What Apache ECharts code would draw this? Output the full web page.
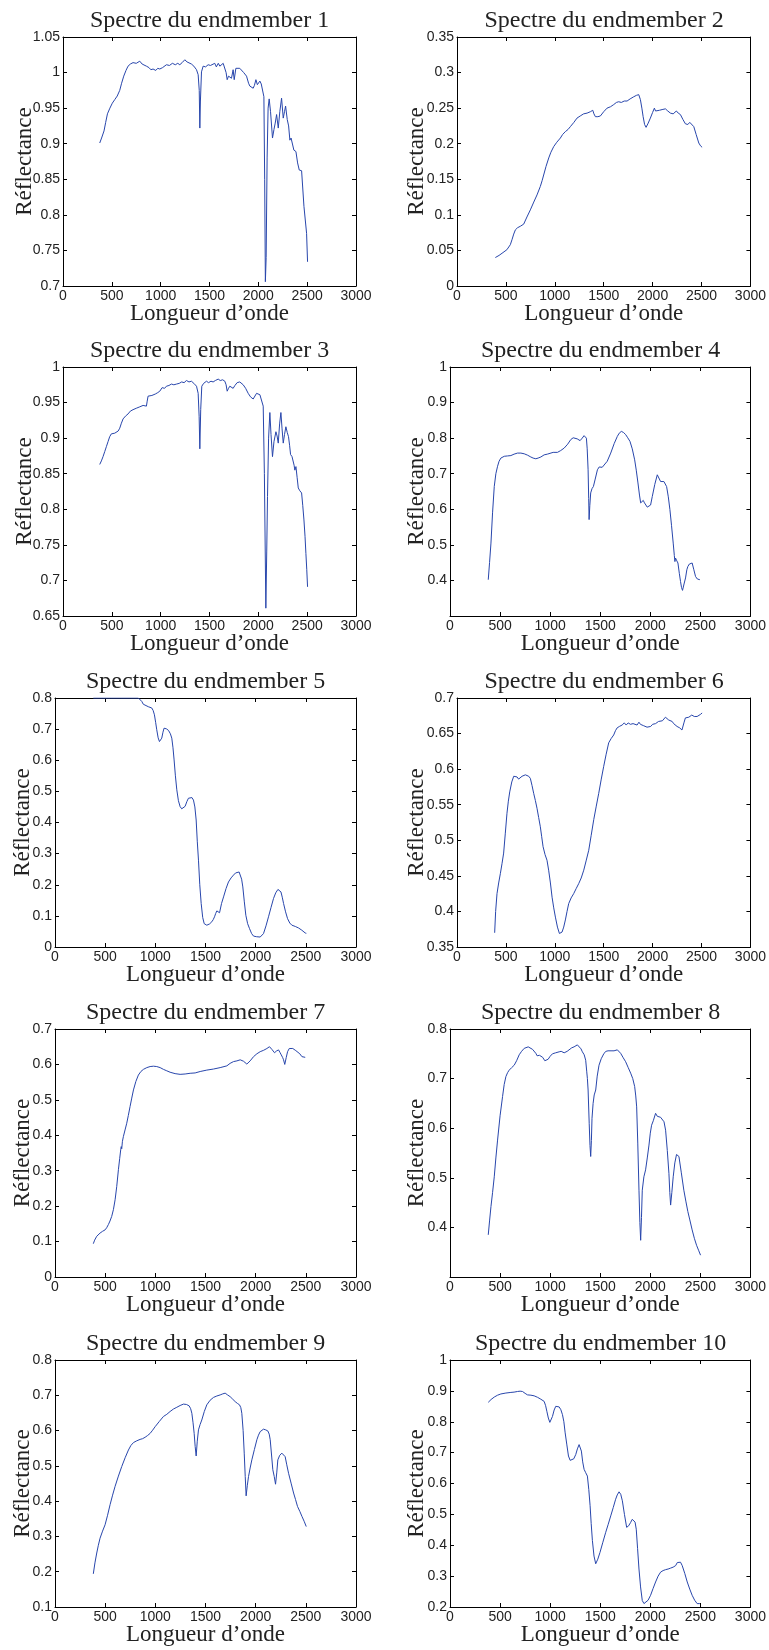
<!DOCTYPE html>
<html>
<head>
<meta charset="utf-8">
<title>Spectres des endmembers</title>
<script src="https://cdn.jsdelivr.net/npm/echarts@6/dist/echarts.min.js"></script>
<style>
  html, body { margin: 0; padding: 0; background: #fff; }
  #chart { width: 769px; height: 1650px; }
</style>
</head>
<body>
<div id="chart"></div>
<script>
// Reflectance spectra of the ten endmembers: [wavelength (nm), reflectance]
const em1 = [[376,0.901],[395,0.908],[420,0.918],[437,0.930],[455,0.942],[480,0.950],[505,0.957],[530,0.962],[555,0.967],[581,0.975],[600,0.985],[622,0.995],[645,1.003],[666,1.009],[690,1.012],[717,1.014],[750,1.013],[786,1.016],[810,1.012],[830,1.013],[854,1.009],[880,1.007],[900,1.004],[922,1.005],[950,1.003],[970,1.006],[991,1.005],[1020,1.007],[1059,1.011],[1090,1.010],[1120,1.013],[1150,1.011],[1175,1.013],[1196,1.011],[1220,1.014],[1247,1.018],[1270,1.015],[1290,1.014],[1315,1.012],[1340,1.009],[1367,1.004],[1384,0.997],[1395,0.975],[1401,0.922],[1407,0.960],[1418,1.001],[1435,1.009],[1460,1.008],[1486,1.011],[1510,1.010],[1530,1.012],[1554,1.013],[1570,1.008],[1590,1.013],[1606,1.009],[1625,1.011],[1640,1.013],[1657,1.011],[1670,1.000],[1681,0.990],[1695,0.995],[1708,0.997],[1725,0.992],[1742,1.004],[1753,0.990],[1770,1.006],[1790,1.004],[1810,1.006],[1828,1.004],[1850,1.000],[1865,0.998],[1879,0.995],[1900,0.985],[1913,0.981],[1930,0.980],[1947,0.978],[1960,0.982],[1975,0.990],[1990,0.983],[2005,0.985],[2016,0.988],[2030,0.984],[2045,0.985],[2057,0.966],[2065,0.850],[2072,0.706],[2080,0.740],[2090,0.880],[2100,0.950],[2111,0.963],[2125,0.945],[2145,0.908],[2160,0.920],[2173,0.929],[2187,0.941],[2204,0.922],[2220,0.945],[2238,0.964],[2255,0.936],[2268,0.945],[2279,0.953],[2296,0.934],[2310,0.925],[2323,0.905],[2335,0.908],[2347,0.910],[2364,0.891],[2385,0.889],[2402,0.873],[2419,0.863],[2443,0.862],[2467,0.812],[2494,0.774],[2504,0.734]];

const em2 = [[392,0.040],[430,0.043],[470,0.047],[510,0.051],[528,0.053],[545,0.058],[562,0.065],[580,0.073],[597,0.079],[620,0.082],[648,0.084],[682,0.087],[715,0.097],[750,0.107],[785,0.118],[818,0.128],[852,0.140],[870,0.148],[886,0.156],[910,0.168],[938,0.180],[960,0.188],[989,0.196],[1020,0.202],[1057,0.208],[1080,0.213],[1108,0.217],[1135,0.220],[1159,0.224],[1195,0.230],[1227,0.236],[1260,0.239],[1295,0.242],[1330,0.243],[1364,0.245],[1388,0.247],[1400,0.242],[1415,0.238],[1440,0.238],[1466,0.239],[1500,0.245],[1534,0.250],[1570,0.252],[1602,0.255],[1630,0.258],[1653,0.259],[1680,0.258],[1710,0.260],[1739,0.260],[1770,0.263],[1807,0.266],[1835,0.268],[1858,0.269],[1875,0.262],[1890,0.250],[1903,0.238],[1918,0.227],[1933,0.223],[1955,0.229],[1977,0.236],[2000,0.244],[2018,0.250],[2030,0.246],[2045,0.245],[2070,0.247],[2097,0.248],[2115,0.246],[2131,0.249],[2155,0.246],[2182,0.243],[2210,0.242],[2243,0.246],[2262,0.243],[2284,0.241],[2310,0.234],[2335,0.228],[2360,0.227],[2380,0.230],[2400,0.228],[2421,0.224],[2445,0.213],[2472,0.201],[2490,0.197],[2506,0.195]];

const em3 = [[376,0.863],[393,0.868],[410,0.874],[427,0.881],[444,0.888],[461,0.895],[478,0.902],[495,0.906],[512,0.908],[530,0.907],[547,0.907],[565,0.910],[581,0.914],[598,0.921],[615,0.927],[640,0.931],[666,0.934],[690,0.938],[717,0.940],[750,0.942],[786,0.944],[820,0.946],[854,0.945],[862,0.952],[871,0.959],[890,0.957],[910,0.960],[922,0.959],[945,0.962],[970,0.964],[991,0.966],[1015,0.971],[1040,0.970],[1059,0.973],[1085,0.974],[1110,0.976],[1135,0.975],[1162,0.976],[1190,0.977],[1215,0.979],[1240,0.978],[1264,0.981],[1290,0.979],[1315,0.980],[1340,0.977],[1367,0.973],[1384,0.963],[1394,0.930],[1401,0.885],[1410,0.940],[1421,0.973],[1440,0.977],[1469,0.980],[1490,0.978],[1515,0.980],[1537,0.979],[1560,0.981],[1589,0.983],[1610,0.981],[1635,0.982],[1657,0.980],[1670,0.975],[1681,0.966],[1695,0.970],[1708,0.973],[1725,0.971],[1742,0.970],[1760,0.974],[1783,0.978],[1810,0.979],[1845,0.975],[1870,0.970],[1896,0.963],[1920,0.958],[1947,0.955],[1965,0.957],[1982,0.963],[2000,0.961],[2016,0.961],[2033,0.963],[2050,0.945],[2062,0.850],[2077,0.661],[2086,0.740],[2094,0.818],[2105,0.900],[2118,0.936],[2130,0.905],[2145,0.874],[2160,0.895],[2180,0.909],[2192,0.903],[2204,0.893],[2218,0.920],[2231,0.936],[2243,0.913],[2255,0.893],[2268,0.905],[2282,0.916],[2296,0.908],[2309,0.902],[2320,0.890],[2330,0.877],[2345,0.874],[2357,0.872],[2366,0.862],[2374,0.855],[2385,0.860],[2397,0.845],[2409,0.830],[2425,0.826],[2443,0.823],[2455,0.805],[2467,0.785],[2478,0.762],[2487,0.738],[2496,0.715],[2504,0.691]];

const em4 = [[382,0.402],[395,0.450],[409,0.505],[425,0.590],[442,0.664],[458,0.700],[475,0.721],[490,0.735],[508,0.744],[525,0.747],[542,0.749],[575,0.750],[608,0.751],[640,0.755],[674,0.758],[708,0.758],[741,0.756],[775,0.752],[807,0.747],[830,0.744],[857,0.742],[880,0.744],[907,0.747],[925,0.750],[940,0.753],[950,0.748],[957,0.749],[972,0.755],[990,0.760],[1030,0.760],[1073,0.760],[1105,0.765],[1140,0.772],[1175,0.783],[1206,0.796],[1230,0.801],[1246,0.803],[1270,0.798],[1299,0.793],[1320,0.800],[1339,0.807],[1352,0.806],[1362,0.800],[1370,0.770],[1379,0.711],[1385,0.630],[1389,0.571],[1396,0.610],[1405,0.646],[1418,0.658],[1432,0.664],[1450,0.685],[1472,0.711],[1490,0.719],[1505,0.721],[1520,0.718],[1538,0.716],[1570,0.735],[1605,0.758],[1640,0.785],[1671,0.805],[1690,0.814],[1711,0.819],[1732,0.816],[1754,0.810],[1775,0.801],[1797,0.791],[1820,0.770],[1844,0.739],[1860,0.710],[1877,0.674],[1892,0.640],[1904,0.618],[1918,0.620],[1930,0.625],[1942,0.618],[1953,0.613],[1970,0.606],[1987,0.603],[2003,0.612],[2020,0.636],[2045,0.670],[2070,0.697],[2085,0.695],[2103,0.678],[2120,0.680],[2136,0.678],[2150,0.673],[2163,0.664],[2180,0.635],[2196,0.599],[2212,0.555],[2229,0.505],[2240,0.470],[2246,0.453],[2252,0.463],[2259,0.467],[2265,0.455],[2276,0.449],[2290,0.420],[2302,0.397],[2312,0.380],[2322,0.372],[2337,0.390],[2352,0.407],[2365,0.430],[2375,0.439],[2390,0.446],[2402,0.449],[2418,0.449],[2435,0.430],[2452,0.411],[2470,0.404],[2495,0.402]];

const em5 = [[382,0.800],[450,0.800],[550,0.800],[650,0.800],[750,0.800],[831,0.800],[848,0.796],[865,0.789],[880,0.780],[898,0.775],[930,0.772],[964,0.768],[978,0.760],[991,0.746],[1003,0.722],[1014,0.698],[1028,0.672],[1041,0.660],[1053,0.662],[1064,0.671],[1076,0.690],[1087,0.703],[1110,0.701],[1131,0.696],[1150,0.685],[1164,0.671],[1176,0.640],[1187,0.601],[1200,0.550],[1214,0.505],[1230,0.470],[1247,0.451],[1263,0.444],[1280,0.443],[1297,0.452],[1314,0.467],[1330,0.478],[1347,0.483],[1365,0.480],[1380,0.472],[1394,0.450],[1407,0.408],[1418,0.340],[1430,0.279],[1443,0.200],[1457,0.140],[1472,0.095],[1487,0.075],[1500,0.071],[1513,0.070],[1540,0.074],[1563,0.081],[1577,0.088],[1590,0.097],[1602,0.108],[1613,0.116],[1627,0.113],[1640,0.110],[1660,0.140],[1680,0.161],[1705,0.188],[1729,0.209],[1755,0.222],[1779,0.231],[1800,0.238],[1819,0.242],[1835,0.241],[1846,0.236],[1860,0.218],[1872,0.193],[1887,0.145],[1902,0.102],[1920,0.075],[1939,0.059],[1960,0.043],[1979,0.035],[2010,0.033],[2045,0.032],[2062,0.036],[2078,0.043],[2103,0.068],[2128,0.097],[2153,0.127],[2178,0.156],[2200,0.174],[2222,0.185],[2237,0.185],[2252,0.177],[2265,0.160],[2278,0.140],[2298,0.113],[2318,0.091],[2340,0.077],[2361,0.070],[2395,0.066],[2428,0.061],[2460,0.054],[2494,0.045],[2505,0.044]];

const em6 = [[385,0.370],[395,0.400],[409,0.425],[426,0.440],[443,0.453],[460,0.467],[477,0.482],[494,0.510],[511,0.538],[525,0.555],[539,0.568],[560,0.582],[580,0.590],[597,0.590],[614,0.589],[630,0.586],[648,0.586],[665,0.590],[682,0.592],[699,0.592],[716,0.592],[733,0.590],[750,0.587],[767,0.577],[784,0.566],[801,0.556],[818,0.545],[835,0.532],[852,0.519],[866,0.505],[880,0.491],[900,0.480],[920,0.472],[937,0.458],[955,0.440],[972,0.420],[989,0.405],[1006,0.392],[1027,0.378],[1047,0.369],[1060,0.369],[1074,0.371],[1091,0.378],[1108,0.388],[1125,0.400],[1142,0.411],[1167,0.419],[1193,0.425],[1218,0.432],[1244,0.439],[1270,0.447],[1296,0.458],[1320,0.471],[1347,0.486],[1372,0.507],[1398,0.529],[1424,0.548],[1449,0.566],[1475,0.586],[1500,0.604],[1525,0.621],[1551,0.637],[1576,0.643],[1602,0.648],[1620,0.654],[1637,0.658],[1660,0.660],[1688,0.662],[1710,0.665],[1730,0.662],[1750,0.665],[1773,0.663],[1800,0.664],[1820,0.662],[1841,0.662],[1860,0.666],[1875,0.663],[1890,0.665],[1909,0.661],[1925,0.660],[1943,0.659],[1960,0.661],[1980,0.660],[2000,0.663],[2011,0.662],[2030,0.664],[2045,0.662],[2060,0.667],[2080,0.667],[2100,0.668],[2115,0.670],[2131,0.673],[2150,0.672],[2165,0.669],[2182,0.669],[2200,0.667],[2215,0.664],[2233,0.662],[2250,0.660],[2265,0.660],[2277,0.658],[2290,0.656],[2300,0.655],[2308,0.653],[2320,0.665],[2335,0.672],[2350,0.672],[2370,0.673],[2386,0.674],[2400,0.676],[2414,0.678],[2426,0.674],[2438,0.672],[2455,0.674],[2470,0.676],[2490,0.677],[2506,0.679]];

const em7 = [[382,0.094],[395,0.104],[416,0.115],[432,0.120],[449,0.124],[474,0.129],[499,0.133],[515,0.139],[532,0.148],[548,0.158],[565,0.171],[582,0.190],[599,0.218],[615,0.255],[632,0.303],[645,0.335],[655,0.359],[660,0.368],[665,0.362],[672,0.383],[682,0.397],[698,0.415],[715,0.434],[731,0.456],[748,0.481],[765,0.505],[782,0.528],[806,0.552],[831,0.570],[856,0.580],[881,0.586],[915,0.591],[948,0.594],[981,0.595],[1014,0.594],[1048,0.591],[1081,0.586],[1114,0.582],[1147,0.578],[1197,0.574],[1247,0.572],[1297,0.573],[1347,0.575],[1397,0.576],[1447,0.580],[1513,0.584],[1580,0.587],[1646,0.591],[1713,0.596],[1745,0.603],[1779,0.608],[1813,0.610],[1846,0.613],[1865,0.613],[1879,0.609],[1895,0.604],[1912,0.601],[1945,0.610],[1979,0.622],[2012,0.630],[2045,0.636],[2080,0.640],[2112,0.645],[2138,0.650],[2163,0.642],[2188,0.633],[2208,0.638],[2228,0.641],[2242,0.634],[2255,0.627],[2268,0.620],[2278,0.613],[2290,0.600],[2295,0.598],[2305,0.620],[2318,0.636],[2335,0.645],[2354,0.650],[2370,0.645],[2384,0.641],[2400,0.639],[2418,0.636],[2440,0.630],[2461,0.622],[2480,0.620],[2494,0.620]];

const em8 = [[382,0.385],[395,0.413],[409,0.442],[425,0.470],[442,0.502],[458,0.540],[475,0.576],[500,0.625],[525,0.664],[541,0.688],[558,0.704],[575,0.712],[591,0.717],[615,0.722],[641,0.727],[665,0.736],[691,0.748],[715,0.755],[741,0.761],[760,0.763],[781,0.764],[800,0.763],[824,0.759],[840,0.756],[857,0.751],[870,0.746],[880,0.744],[893,0.747],[907,0.746],[925,0.743],[947,0.736],[962,0.736],[980,0.739],[1000,0.745],[1023,0.750],[1055,0.752],[1090,0.754],[1110,0.755],[1123,0.754],[1140,0.752],[1156,0.748],[1170,0.755],[1189,0.759],[1215,0.762],[1239,0.764],[1255,0.765],[1272,0.768],[1290,0.765],[1308,0.760],[1322,0.754],[1340,0.748],[1355,0.737],[1365,0.715],[1372,0.700],[1379,0.677],[1390,0.610],[1398,0.565],[1405,0.543],[1412,0.575],[1418,0.620],[1429,0.650],[1440,0.667],[1455,0.677],[1470,0.705],[1488,0.727],[1510,0.740],[1538,0.751],[1558,0.755],[1578,0.756],[1608,0.756],[1638,0.756],[1655,0.758],[1671,0.758],[1688,0.755],[1704,0.751],[1730,0.742],[1754,0.734],[1780,0.722],[1804,0.711],[1825,0.700],[1844,0.684],[1855,0.665],[1864,0.643],[1875,0.570],[1887,0.475],[1896,0.410],[1904,0.374],[1912,0.420],[1920,0.475],[1936,0.502],[1953,0.516],[1970,0.540],[1987,0.566],[2000,0.590],[2013,0.606],[2030,0.615],[2053,0.630],[2070,0.624],[2086,0.620],[2103,0.622],[2120,0.623],[2137,0.613],[2153,0.596],[2170,0.555],[2186,0.509],[2195,0.470],[2203,0.445],[2215,0.470],[2229,0.502],[2245,0.530],[2262,0.547],[2275,0.546],[2286,0.543],[2310,0.510],[2335,0.475],[2355,0.453],[2375,0.432],[2395,0.415],[2418,0.395],[2440,0.378],[2462,0.364],[2482,0.354],[2502,0.344]];

const em9 = [[382,0.194],[398,0.225],[416,0.253],[432,0.275],[449,0.295],[474,0.315],[499,0.333],[524,0.360],[549,0.390],[574,0.417],[599,0.442],[632,0.471],[665,0.498],[699,0.523],[732,0.545],[757,0.558],[782,0.566],[815,0.571],[848,0.575],[873,0.577],[898,0.581],[923,0.586],[948,0.592],[973,0.601],[998,0.611],[1040,0.626],[1081,0.640],[1114,0.646],[1147,0.654],[1180,0.661],[1214,0.666],[1247,0.671],[1280,0.675],[1310,0.674],[1337,0.670],[1352,0.662],[1364,0.649],[1376,0.622],[1387,0.592],[1397,0.555],[1407,0.528],[1418,0.570],[1430,0.602],[1446,0.617],[1463,0.630],[1488,0.654],[1513,0.673],[1546,0.686],[1580,0.694],[1613,0.698],[1646,0.701],[1672,0.704],[1696,0.706],[1720,0.701],[1746,0.696],[1771,0.689],[1796,0.682],[1818,0.677],[1839,0.673],[1852,0.665],[1862,0.649],[1875,0.600],[1886,0.536],[1896,0.470],[1905,0.415],[1917,0.445],[1929,0.470],[1945,0.494],[1962,0.517],[1987,0.546],[2012,0.574],[2028,0.587],[2045,0.597],[2062,0.602],[2078,0.604],[2100,0.602],[2121,0.599],[2135,0.590],[2145,0.574],[2160,0.525],[2171,0.489],[2185,0.470],[2198,0.448],[2210,0.480],[2221,0.517],[2240,0.530],[2261,0.536],[2278,0.533],[2294,0.526],[2310,0.503],[2328,0.479],[2353,0.451],[2378,0.423],[2397,0.405],[2417,0.385],[2440,0.371],[2461,0.357],[2483,0.343],[2504,0.328]];

const em10 = [[382,0.863],[410,0.872],[442,0.880],[475,0.886],[508,0.890],[558,0.893],[608,0.895],[640,0.896],[674,0.898],[700,0.899],[724,0.898],[750,0.892],[774,0.887],[808,0.886],[840,0.884],[875,0.879],[907,0.873],[925,0.870],[940,0.866],[955,0.852],[967,0.834],[982,0.812],[997,0.798],[1010,0.802],[1023,0.817],[1040,0.838],[1056,0.850],[1073,0.851],[1090,0.848],[1107,0.839],[1123,0.823],[1137,0.800],[1150,0.764],[1167,0.725],[1183,0.689],[1200,0.675],[1216,0.672],[1236,0.680],[1256,0.694],[1272,0.712],[1289,0.726],[1300,0.720],[1312,0.705],[1325,0.670],[1339,0.646],[1355,0.635],[1372,0.624],[1386,0.580],[1399,0.528],[1410,0.470],[1422,0.415],[1438,0.365],[1455,0.340],[1476,0.355],[1498,0.377],[1525,0.408],[1555,0.442],[1580,0.468],[1605,0.495],[1630,0.522],[1654,0.549],[1670,0.563],[1688,0.573],[1705,0.565],[1721,0.544],[1742,0.500],[1764,0.458],[1784,0.463],[1804,0.474],[1820,0.484],[1837,0.487],[1848,0.475],[1860,0.452],[1873,0.390],[1887,0.323],[1903,0.265],[1920,0.221],[1937,0.211],[1953,0.209],[1978,0.222],[2003,0.238],[2028,0.260],[2053,0.281],[2078,0.300],[2103,0.313],[2128,0.318],[2153,0.321],[2178,0.323],[2203,0.326],[2228,0.329],[2253,0.334],[2270,0.344],[2286,0.350],[2302,0.345],[2319,0.334],[2345,0.308],[2369,0.281],[2394,0.258],[2418,0.238],[2443,0.222],[2468,0.211],[2495,0.211]];

const spectra = [em1, em2, em3, em4, em5, em6, em7, em8, em9, em10];
const titles = spectra.map((_, i) => 'Spectre du endmember ' + (i + 1));
const xLabel = 'Longueur d\u2019onde';
const yLabel = 'Réflectance';

// Wavelength axis (shared) and reflectance axis ranges per panel
const xMin = 0, xMax = 3000, xStep = 500;
const yMin  = [0.70, 0,    0.65, 0.3, 0,   0.35, 0,   0.3, 0.1, 0.2];
const yMax  = [1.05, 0.35, 1,    1,   0.8, 0.7,  0.7, 0.8, 0.8, 1];
const yStep = [0.05, 0.05, 0.05, 0.1, 0.1, 0.05, 0.1, 0.1, 0.1, 0.1];
const yHideMin = [false, false, false, true, false, false, false, true, false, false];

// Plot boxes in pixels: [left, top, width, height]
const boxes = [
  [63, 37, 293, 249], [457, 37, 294, 249],
  [63, 367, 293, 249], [450, 367, 301, 249],
  [55, 698, 301, 249], [457, 698, 294, 249],
  [55, 1029, 301, 248], [450, 1029, 301, 248],
  [55, 1360, 301, 247], [450, 1360, 301, 247]
];
// x position of the vertical axis-name baseline, per panel
const yNameBase = [32, 424, 32, 424, 30.5, 424, 30.5, 424, 30.5, 424];

const SERIF = 'Liberation Serif';
const SANS = 'Liberation Sans';
const INK = '#000';
const TEXT = '#222';
const LINE = '#2846ac';

const tickStyle = { inside: true, length: 4, lineStyle: { color: INK, width: 1 } };
const lineStyle = { show: true, onZero: false, lineStyle: { color: INK, width: 1 } };
const labelStyle = { fontFamily: SANS, fontSize: 14, color: TEXT };
const plainNumber = v => String(v);

const option = {
  animation: false,
  backgroundColor: '#fff',
  title: [], grid: [], xAxis: [], yAxis: [], series: []
};

spectra.forEach((data, i) => {
  const [l, t, w, h] = boxes[i];
  option.grid.push({ left: l, top: t, width: w, height: h, containLabel: false });

  option.title.push({
    text: titles[i],
    left: l + w / 2, top: t - 28, textAlign: 'center', padding: 0,
    textStyle: { fontFamily: SERIF, fontSize: 24, fontWeight: 'normal', color: TEXT }
  });

  // bottom wavelength axis with labels, plus a bare mirror on top to close the box
  option.xAxis.push({
    gridIndex: i, type: 'value', position: 'bottom',
    min: xMin, max: xMax, interval: xStep,
    name: xLabel, nameLocation: 'middle', nameGap: 16, nameMoveOverlap: false,
    nameTextStyle: { fontFamily: SERIF, fontSize: 23, color: TEXT },
    axisLine: lineStyle, axisTick: tickStyle,
    axisLabel: Object.assign({ margin: 3, formatter: plainNumber }, labelStyle),
    splitLine: { show: false }
  });
  option.xAxis.push({
    gridIndex: i, type: 'value', position: 'top',
    min: xMin, max: xMax, interval: xStep,
    axisLine: lineStyle, axisTick: tickStyle,
    axisLabel: { show: false }, splitLine: { show: false }
  });

  // left reflectance axis with labels, plus a bare mirror on the right
  option.yAxis.push({
    gridIndex: i, type: 'value', position: 'left',
    min: yMin[i], max: yMax[i], interval: yStep[i],
    name: yLabel, nameLocation: 'middle', nameGap: l - yNameBase[i] - 4, nameMoveOverlap: false,
    nameTextStyle: { fontFamily: SERIF, fontSize: 23, color: TEXT },
    axisLine: lineStyle, axisTick: tickStyle,
    axisLabel: Object.assign({ margin: 3, showMinLabel: !yHideMin[i] }, labelStyle),
    splitLine: { show: false }
  });
  option.yAxis.push({
    gridIndex: i, type: 'value', position: 'right',
    min: yMin[i], max: yMax[i], interval: yStep[i],
    axisLine: lineStyle, axisTick: tickStyle,
    axisLabel: { show: false }, splitLine: { show: false }
  });

  option.series.push({
    type: 'line', xAxisIndex: 2 * i, yAxisIndex: 2 * i,
    data: data, showSymbol: false, symbol: 'none', clip: true, silent: true,
    lineStyle: { color: LINE, width: 1 }
  });
});

const chart = echarts.init(document.getElementById('chart'), null, { renderer: 'canvas' });
chart.setOption(option);
</script>
</body>
</html>
